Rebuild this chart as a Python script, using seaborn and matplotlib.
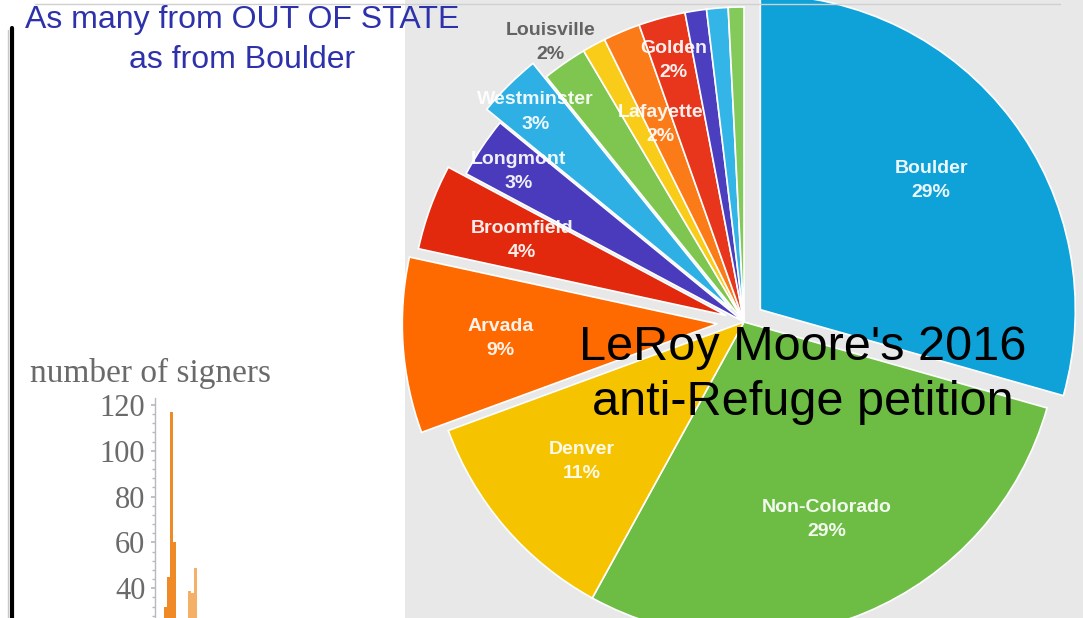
import numpy as np
import matplotlib
matplotlib.use("Agg")
import matplotlib.pyplot as plt
import seaborn as sns
from matplotlib.lines import Line2D
from matplotlib.ticker import MultipleLocator

# pie: share of signers by home town
places = ["Boulder", "Non-Colorado", "Denver", "Arvada", "Broomfield", "Longmont",
          "Westminster", "Louisville", "", "Lafayette", "Golden", "", "", ""]
shares = [29.4, 28.6, 11.4, 9.0, 4.4, 3.1, 3.3, 2.3, 1.2, 1.9, 2.4, 1.1, 1.1, 0.8]
slice_colors = ["#0ea2d9", "#6dbd45", "#f6c300", "#ff6a00", "#e3290d", "#4a3bbd",
                "#2fb0e4", "#7ec650", "#f9cc1a", "#fb7b19", "#e8361d", "#4b3fc0",
                "#33b5e8", "#84ca5b"]
explode = [0.065, 0, 0, 0.085, 0.06, 0, 0.06, 0, 0, 0, 0, 0, 0, 0]
label_r = [0.68, 0.68, 0.68, 0.69, 0.69, 0.86, 0.88, 1.08, 0, 0.68, 0.86, 0, 0, 0]

# little histogram in the lower left
sign_bins = [3, 4, 5, 6, 11, 12, 13]
sign_counts = [32, 45, 117, 60, 39, 38, 49]
sign_group = ["a", "a", "a", "a", "b", "b", "b"]

W, H = 1083, 618
sns.set_theme(style="white")
plt.rcParams["font.family"] = ["Liberation Sans", "DejaVu Sans"]
serif = ["Liberation Serif", "DejaVu Serif"]

fig = plt.figure(figsize=(W / 100, H / 100), dpi=100)
fig.patch.set_facecolor("white")

# pie panel, 315 px per data unit, centre at (744, 322) px
cx, cy, scale = 744, 322, 315
ax = fig.add_axes([405 / W, 0, 678 / W, 1])
wedges, _ = ax.pie(shares, colors=slice_colors, explode=explode, startangle=90,
                   counterclock=False, wedgeprops=dict(edgecolor="white", linewidth=1.2))
ax.set_frame_on(True)
for s in ax.spines.values():
    s.set_visible(False)
ax.set_facecolor("#e8e8e9")
ax.set_aspect("auto")
ax.set_xlim((405 - cx) / scale, (W - cx) / scale)
ax.set_ylim((cy - H) / scale, cy / scale)

for w, name, v, ex, r in zip(wedges, places, shares, explode, label_r):
    if not name:
        continue
    ang = np.deg2rad((w.theta1 + w.theta2) / 2)
    col = "#585858" if name == "Louisville" else "white"
    ax.text((ex + r) * np.cos(ang), (ex + r) * np.sin(ang), f"{name}\n{round(v)}%",
            ha="center", va="center", color=col, fontsize=14, fontweight="bold",
            linespacing=1.55, alpha=0.92)

ax.text((803 - cx) / scale, (cy - 375) / scale, "LeRoy Moore's 2016\nanti-Refuge petition",
        ha="center", va="center", fontsize=35, color="black", linespacing=1.3)

# histogram panel
axb = fig.add_axes([155 / W, 0, 240 / W, 220 / H])
sns.barplot(x=sign_bins, y=sign_counts, hue=sign_group, native_scale=True, orient="x",
            palette={"a": "#ef8a26", "b": "#f5b068"}, width=1, legend=False,
            errorbar=None, linewidth=0, saturation=1, ax=axb)
axb.set_xlim(-0.5, 79.5)
axb.set_ylim(27, 123)
axb.set_facecolor("white")
for side in ["top", "right", "bottom"]:
    axb.spines[side].set_visible(False)
axb.spines["left"].set_color("#b8b8c0")
axb.spines["left"].set_linewidth(1)
axb.set_xticks([])
axb.set_yticks([40, 60, 80, 100, 120])
axb.yaxis.set_minor_locator(MultipleLocator(4))
axb.tick_params(axis="y", which="both", left=True, colors="#b8b8c0", length=3, pad=4)
axb.tick_params(axis="y", which="minor", length=2)
for t in axb.get_yticklabels():
    t.set_family(serif)
    t.set_fontsize(22)
    t.set_color("#6a6a6a")
axb.set_xlabel("")
axb.set_ylabel("")

fig.text(30 / W, 1 - 373 / H, "number of signers", ha="left", va="center", fontsize=24,
         color="#6a6a6a", family=serif)

fig.text(242 / W, 1 - 40 / H, "As many from OUT OF STATE\nas from Boulder", ha="center",
         va="center", fontsize=23, color="#2e32aa", linespacing=1.4)

# screenshot frame
fig.add_artist(Line2D([12 / W, 12 / W], [0, 1 - 28 / H], color="black", lw=3, transform=fig.transFigure))
fig.add_artist(Line2D([8 / W, 8 / W], [0, 1 - 30 / H], color="#c8c8c8", lw=1, transform=fig.transFigure))
fig.add_artist(Line2D([35 / W, 1060 / W], [1 - 4 / H, 1 - 4 / H], color="#d0d0d0", lw=1, transform=fig.transFigure))

fig.savefig("out.png", dpi=100)
